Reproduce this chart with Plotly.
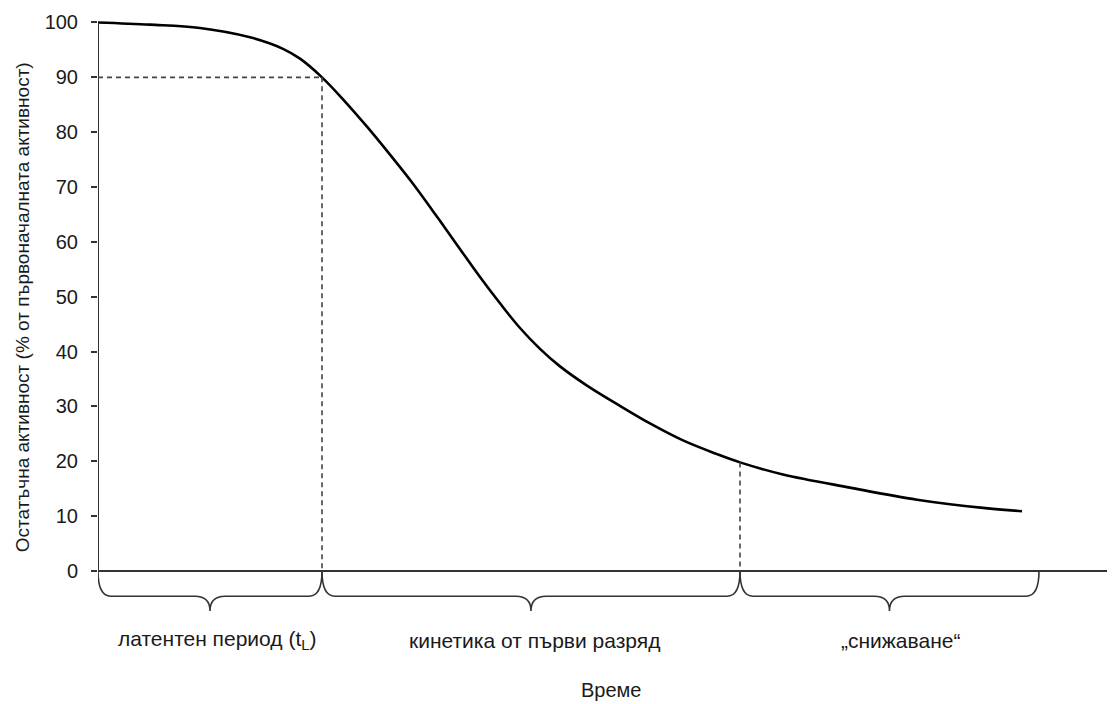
import plotly.graph_objects as go

# Data (time in arbitrary units, activity in % of initial)
time = [0, 5.2, 10.2, 15.2, 18.5, 20.2, 22.4, 24.5, 26.9, 29.2, 31.5, 33.5, 35.5,
        38.2, 40.2, 42.2, 44.2, 46.2, 48.9, 52.2, 55.2, 58.5, 61.9, 64.2,
        68.5, 75.2, 81.9, 88.5, 92.4]
activity = [100, 99.6, 99.0, 97.3, 95.2, 93.4, 90.0, 86.0, 81.0, 75.9, 70.6, 65.6, 60.5,
            53.6, 48.8, 44.3, 40.5, 37.3, 33.8, 30.1, 26.9, 23.8, 21.3, 19.8,
            17.6, 15.2, 13.0, 11.5, 10.9]

t_lag = 22.4          # end of latent period (90 %)
t_decay = 64.2        # end of first-order kinetics (~20 %)
y_lag = 90.0
y_decay = 19.8
t_end_brace = 94.1
x_max = 101.7

phase_bounds = [(0, t_lag), (t_lag, t_decay), (t_decay, t_end_brace)]
phase_labels = ["латентен период (t<sub>L</sub>)", "кинетика от първи разряд", "„снижаване“"]
phase_label_x = [11.9, 43.6, 80.2]

y_ticks = list(range(0, 101, 10))
y_title = "Остатъчна активност (% от първоначалната активност)"
x_title = "Време"

FONT = "Liberation Sans, Arial, sans-serif"
TXT = "#1a1a1a"

fig = go.Figure()
fig.add_trace(go.Scatter(x=time, y=activity, mode="lines",
                         line=dict(color="black", width=2.6, shape="spline", smoothing=1.0),
                         hoverinfo="skip", showlegend=False))

shapes = []
# axis lines
shapes.append(dict(type="line", xref="x", yref="y", x0=0, y0=0, x1=0, y1=100,
                   line=dict(color="#333", width=2)))
shapes.append(dict(type="line", xref="x", yref="y", x0=0, y0=0, x1=x_max, y1=0,
                   line=dict(color="#333", width=2)))
# dashed guide lines
dash = dict(color="#444", width=1.6, dash="5px,4px")
shapes.append(dict(type="line", xref="x", yref="y", x0=0, y0=y_lag, x1=t_lag, y1=y_lag, line=dash))
shapes.append(dict(type="line", xref="x", yref="y", x0=t_lag, y0=y_lag, x1=t_lag, y1=0, line=dash))
shapes.append(dict(type="line", xref="x", yref="y", x0=t_decay, y0=y_decay, x1=t_decay, y1=0, line=dash))

# braces
h1, h2, r_end, r_tip = -4.6, -7.3, 1.3, 1.5
for (a, b) in phase_bounds:
    m = (a + b) / 2
    path = (f"M {a},0 Q {a},{h1} {a + r_end},{h1} L {m - r_tip},{h1} "
            f"Q {m},{h1} {m},{h2} Q {m},{h1} {m + r_tip},{h1} "
            f"L {b - r_end},{h1} Q {b},{h1} {b},0")
    shapes.append(dict(type="path", xref="x", yref="y", path=path,
                       line=dict(color="#333", width=1.6)))

annotations = []
for lbl, lx in zip(phase_labels, phase_label_x):
    annotations.append(dict(x=lx, y=-12.6, xref="x", yref="y", text=lbl, showarrow=False,
                            font=dict(family=FONT, size=21, color=TXT),
                            xanchor="center", yanchor="middle"))
annotations.append(dict(x=51.3, y=-21.7, xref="x", yref="y", text=x_title, showarrow=False,
                        font=dict(family=FONT, size=20, color=TXT),
                        xanchor="center", yanchor="middle"))
annotations.append(dict(x=-0.0747, y=48.1, xref="paper", yref="y", text=y_title, showarrow=False,
                        textangle=-90, font=dict(family=FONT, size=19, color=TXT),
                        xanchor="center", yanchor="middle"))

fig.update_layout(
    width=1107, height=696,
    margin=dict(l=90, r=0, t=4, b=0),
    paper_bgcolor="white", plot_bgcolor="white",
    shapes=shapes, annotations=annotations,
    xaxis=dict(range=[0, x_max], showgrid=False, zeroline=False, showline=False,
               showticklabels=False, ticks=""),
    yaxis=dict(range=[-24.25, 101.91], showgrid=False, zeroline=False, showline=False,
               tickmode="array", tickvals=y_ticks, ticks="outside", ticklen=6,
               tickwidth=1.5, tickcolor="#333", ticklabelstandoff=9,
               tickfont=dict(family=FONT, size=20, color=TXT)),
)

fig.write_html("out.html")
